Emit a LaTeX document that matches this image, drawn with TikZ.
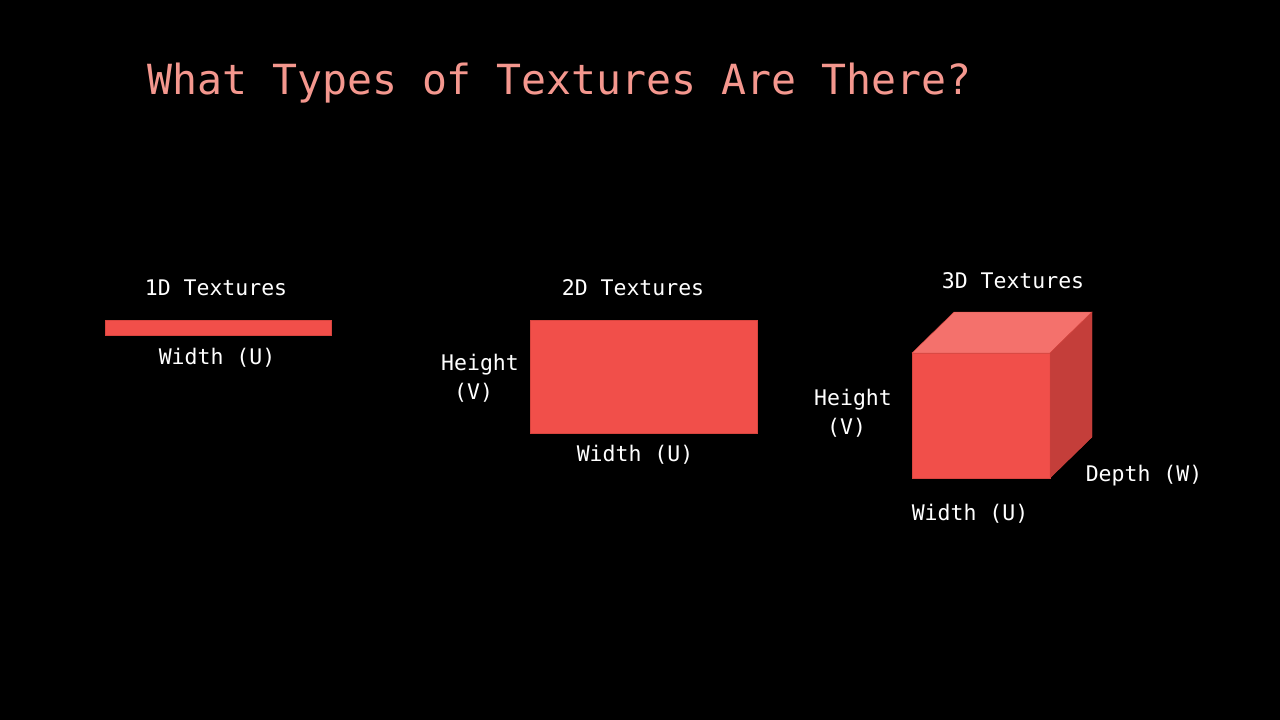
\documentclass[tikz,border=0pt]{standalone}
\usepackage{fontspec}
\setmonofont{DejaVu Sans Mono}
\usepackage{tikz}
\usetikzlibrary{positioning}
\definecolor{titlepink}{HTML}{F4978E}
\definecolor{texred}{HTML}{F14F4A}
\definecolor{texedge}{HTML}{D8453F}
\definecolor{cubetop}{HTML}{F4716C}
\definecolor{cubeside}{HTML}{C43E3A}

\begin{document}
\begin{tikzpicture}[x=1pt,y=-1pt,font=\ttfamily\fontsize{21.5}{29}\selectfont,
  lbl/.style={text=white,inner sep=0pt,align=center},
  texshape/.style={fill=texred,draw=texedge,inner sep=0pt}]
\fill[black] (0,0) rectangle (1280,720);
\useasboundingbox (0,0) rectangle (1280,720);
\node[text=titlepink,inner sep=0pt,anchor=base west,font=\ttfamily\fontsize{41.5}{50}\selectfont] (title) at (147,94) {What Types of Textures Are There?};
% 1D
\node[lbl] (tex1d) at (216,288) {1D Textures};
\node[texshape,minimum width=226pt,minimum height=15pt] (bar1d) at (218,327.5) {};
\node[lbl] (w1d) at (217,358) {Width (U)};
% 2D
\node[lbl] (tex2d) at (633,288) {2D Textures};
\node[texshape,minimum width=227pt,minimum height=113pt] (rect2d) at (643.5,376.5) {};
\node[lbl,align=left,anchor=west] (h2d) at (441,378) {Height\\\ (V)};
\node[lbl] (w2d) at (635,455) {Width (U)};
% 3D
\filldraw[fill=texred,draw=texedge] (912,353) rectangle (1050,478);
\filldraw[fill=cubetop,draw=texedge] (912,353) -- ++(42,-41) -- ++(138,0) -- (1050,353) -- cycle;
\filldraw[fill=cubeside,draw=texedge] (1050,353) -- ++(42,-41) -- ++(0,125) -- (1050,478) -- cycle;
\node[lbl] (tex3d) at (1013,281) {3D Textures};
\node[lbl,align=left,anchor=west] (h3d) at (814,413) {Height\\\ (V)};
\node[lbl] (d3d) at (1144,476) {Depth (W)};
\node[lbl] (w3d) at (970,514) {Width (U)};
\end{tikzpicture}
\end{document}
